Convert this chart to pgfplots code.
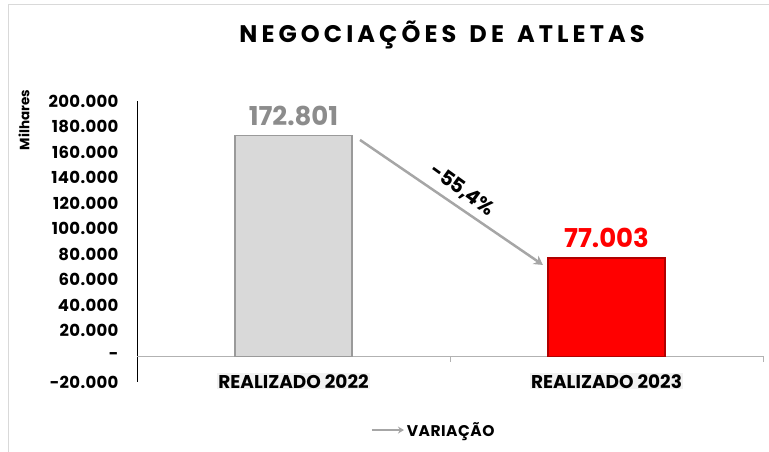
\documentclass[border=0pt]{standalone}
\usepackage{fontspec}
\setmainfont{Poppins}
\usepackage{pgfplots}
\pgfplotsset{compat=1.18}
\usetikzlibrary{arrows.meta}
\definecolor{bargray}{HTML}{D9D9D9}
\definecolor{bargrayedge}{HTML}{9A9A9A}
\definecolor{barred}{HTML}{FF0000}
\definecolor{barrededge}{HTML}{B00000}
\definecolor{labgray}{HTML}{8C8C8C}
\definecolor{arrowgray}{HTML}{A6A6A6}
\begin{document}
\begin{tikzpicture}[x=1pt,y=1pt]
\useasboundingbox (0,0) rectangle (769,452);
\draw[black!15, line width=1pt] (8,0) -- (8,447) -- (769,447);
\node[font=\bfseries\fontsize{24}{26}\selectfont\addfontfeature{LetterSpace=17}] at (442,417) {NEGOCIAÇÕES\hspace{4pt} DE\hspace{4pt} ATLETAS};
\node[rotate=90, font=\bfseries\fontsize{13.5}{15}\selectfont] at (24,332) {Milhares};
\begin{axis}[
  at={(137pt,70pt)}, anchor=south west,
  scale only axis, width=626pt, height=281pt,
  xmin=-0.5, xmax=1.5, ymin=-20000, ymax=200000,
  axis x line=none, axis y line*=left,
  y axis line style={black, line width=1pt},
  scaled y ticks=false,
  ytick={-20000,0,20000,40000,60000,80000,100000,120000,140000,160000,180000,200000},
  yticklabels={-20.000,-,20.000,40.000,60.000,80.000,100.000,120.000,140.000,160.000,180.000,200.000},
  major tick length=0pt,
  yticklabel style={font=\bfseries\fontsize{16.5}{17}\selectfont\addfontfeature{LetterSpace=2}, anchor=east, xshift=-15pt},
  clip=false,
  legend style={draw=none, at={(0.474,-0.171)}, anchor=center, font=\bfseries\fontsize{15.5}{16}\selectfont\addfontfeature{LetterSpace=3}},
  legend image code/.code={\draw[arrowgray, line width=2pt, -{Stealth[length=6pt,width=7pt]}] (0pt,0pt) -- (32pt,0pt);},
]
\draw[black!30, line width=1pt] (axis cs:-0.5,0) -- (axis cs:1.5,0);
\draw[black!30, line width=1pt] (axis cs:0.5,0) -- ++(0pt,-6pt);
\draw[black!30, line width=1pt] (axis cs:1.5,0) -- ++(0pt,-6pt);
\addplot[ybar, bar width=117pt, bar shift=0pt, fill=bargray, draw=bargrayedge, line width=1.5pt, forget plot,
  point meta=explicit symbolic, nodes near coords,
  nodes near coords style={font=\bfseries\fontsize{26}{28}\selectfont, text=labgray, anchor=south, yshift=6pt}]
  coordinates {(0,172801) [172.801]};
\addplot[ybar, bar width=117pt, bar shift=0pt, fill=barred, draw=barrededge, line width=1.5pt, forget plot,
  point meta=explicit symbolic, nodes near coords,
  nodes near coords style={font=\bfseries\fontsize{26}{28}\selectfont, text=barred, anchor=south, yshift=6pt}]
  coordinates {(1,77003) [77.003]};
\addplot[arrowgray, line width=2.5pt, -{Stealth[length=9pt,width=10pt]}] coordinates {(0.2125,169500) (0.797,71640)};
\addlegendentry{VARIAÇÃO}
\node[rotate=-36, font=\bfseries\fontsize{20}{22}\selectfont] at (axis cs:0.54,130000) {-55,4\%};
\node[fill=black!5, inner sep=1pt, font=\bfseries\fontsize{18.5}{20}\selectfont] at (axis cs:0,-19500) {REALIZADO 2022};
\node[fill=black!5, inner sep=1pt, font=\bfseries\fontsize{18.5}{20}\selectfont] at (axis cs:1,-19500) {REALIZADO 2023};
\end{axis}
\end{tikzpicture}
\end{document}
